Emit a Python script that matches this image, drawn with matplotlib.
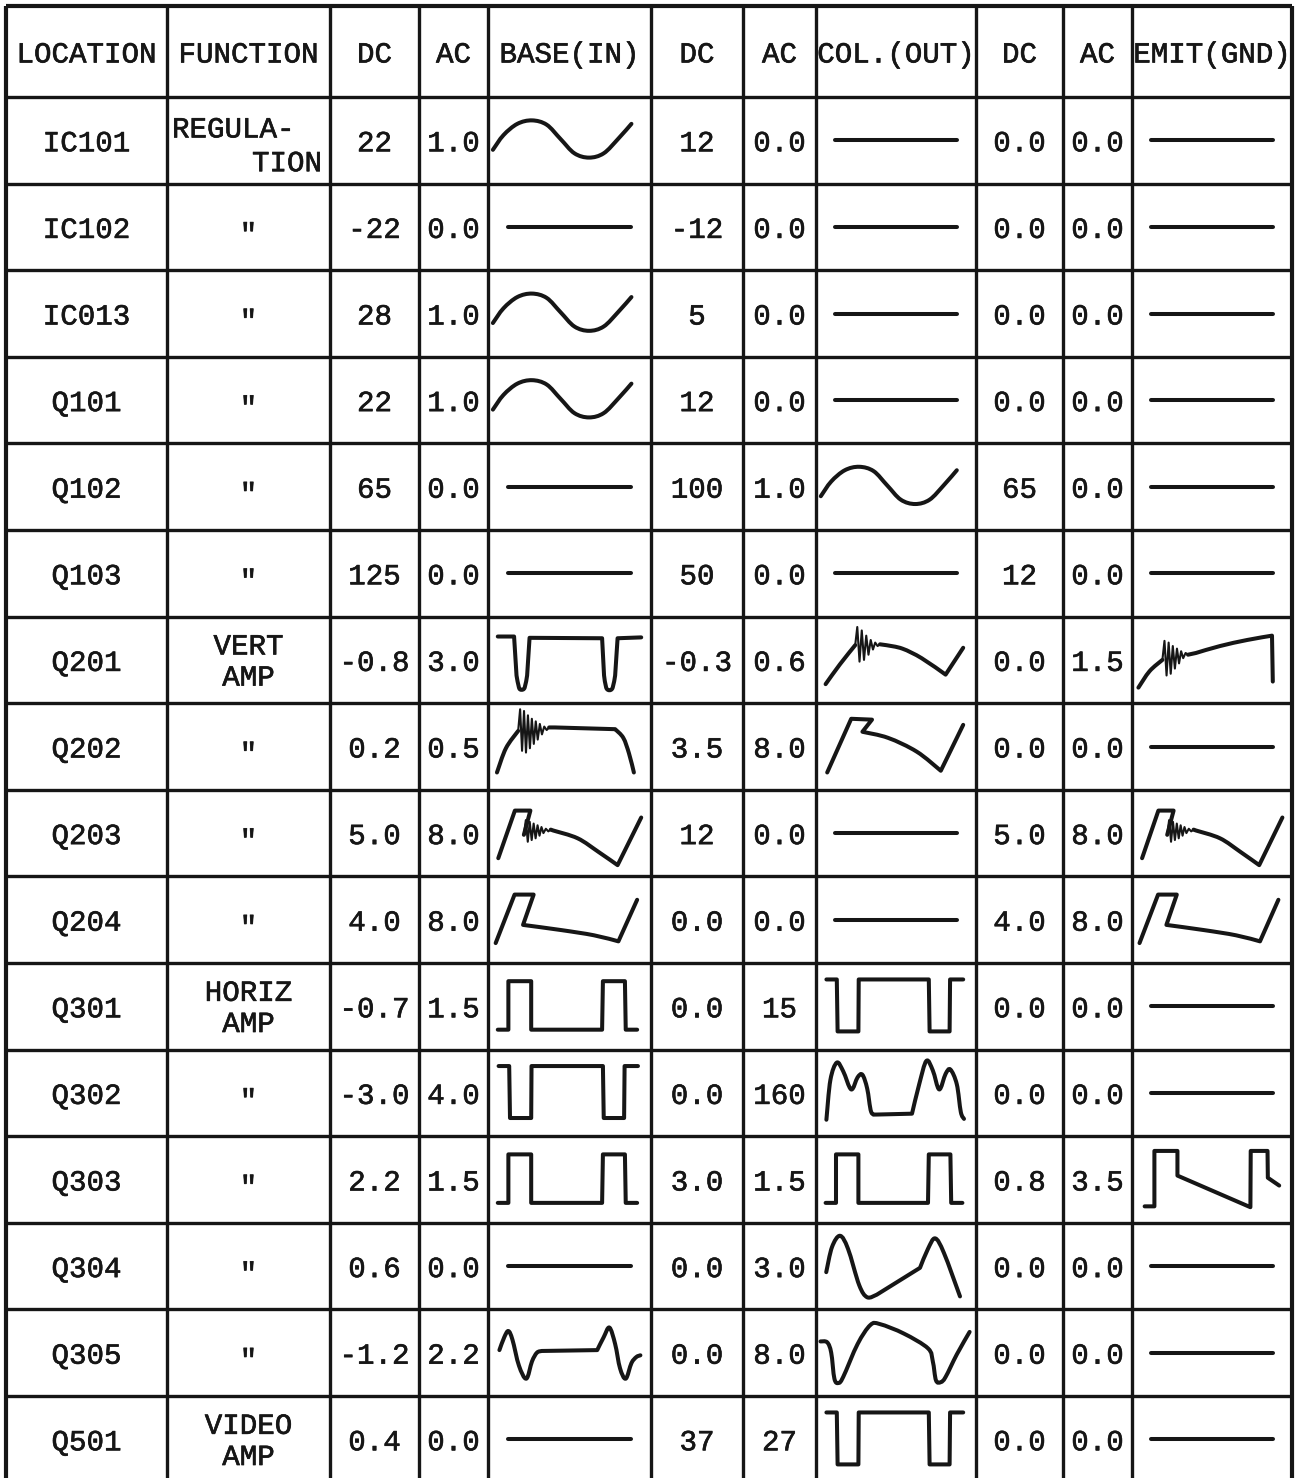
import numpy as np
import matplotlib
matplotlib.use("Agg")
import matplotlib.pyplot as plt
from matplotlib.path import Path
from matplotlib.patches import PathPatch
from matplotlib.transforms import Affine2D
import matplotlib.patheffects as pe

# ---------------- data ----------------
header = ["LOCATION", "FUNCTION", "DC", "AC", "BASE(IN)", "DC", "AC",
          "COL.(OUT)", "DC", "AC", "EMIT(GND)"]
locations = ["IC101", "IC102", "IC013", "Q101", "Q102", "Q103", "Q201", "Q202",
             "Q203", "Q204", "Q301", "Q302", "Q303", "Q304", "Q305", "Q501"]
functions = ["REGULA-\nTION", '"', '"', '"', '"', '"', "VERT\nAMP", '"', '"', '"',
             "HORIZ\nAMP", '"', '"', '"', '"', "VIDEO\nAMP"]
base_dc = ["22", "-22", "28", "22", "65", "125", "-0.8", "0.2", "5.0", "4.0",
           "-0.7", "-3.0", "2.2", "0.6", "-1.2", "0.4"]
base_ac = ["1.0", "0.0", "1.0", "1.0", "0.0", "0.0", "3.0", "0.5", "8.0", "8.0",
           "1.5", "4.0", "1.5", "0.0", "2.2", "0.0"]
base_wave = ["sine", "flat", "sine", "sine", "flat", "flat", "neg_u", "spike_plateau",
             "ramp_spike", "ramp_step", "pos_pulse", "neg_pulse", "pos_pulse", "flat",
             "biphasic", "flat"]
col_dc = ["12", "-12", "5", "12", "100", "50", "-0.3", "3.5", "12", "0.0",
          "0.0", "0.0", "3.0", "0.0", "0.0", "37"]
col_ac = ["0.0", "0.0", "0.0", "0.0", "1.0", "0.0", "0.6", "8.0", "0.0", "0.0",
          "15", "160", "1.5", "3.0", "8.0", "27"]
col_wave = ["flat", "flat", "flat", "flat", "sine", "flat", "spike_ramp", "step_ramp",
            "flat", "flat", "neg_pulse", "double_hump", "pos_pulse", "hump_ramp",
            "dip_arch", "neg_pulse"]
emit_dc = ["0.0", "0.0", "0.0", "0.0", "65", "12", "0.0", "0.0", "5.0", "4.0",
           "0.0", "0.0", "0.8", "0.0", "0.0", "0.0"]
emit_ac = ["0.0", "0.0", "0.0", "0.0", "0.0", "0.0", "1.5", "0.0", "8.0", "8.0",
           "0.0", "0.0", "3.5", "0.0", "0.0", "0.0"]
emit_wave = ["flat", "flat", "flat", "flat", "flat", "flat", "spike_rise_drop", "flat",
             "ramp_spike", "ramp_step", "flat", "flat", "pulse_ramp", "flat", "flat", "flat"]

# waveform sketches, in cell units (u: 0 left..1 right, v: 0 top..1 bottom)
# 'L' = straight strokes, 'S' = smooth stroke, 'Z' = thin ringing zigzag
shapes = {
    "flat": [("L", [(0.12, 0.5), (0.88, 0.5)])],
    "sine": [("S", [(0.03, 0.61), (0.095, 0.44), (0.18, 0.31), (0.27, 0.27), (0.36, 0.32),
                    (0.445, 0.485), (0.53, 0.65), (0.62, 0.70), (0.71, 0.65), (0.80, 0.48),
                    (0.88, 0.31)])],
    "neg_u": [("L", [(0.06, 0.23), (0.16, 0.23), (0.175, 0.68)]),
              ("S", [(0.175, 0.68), (0.19, 0.82), (0.205, 0.845), (0.225, 0.82), (0.24, 0.68)]),
              ("L", [(0.24, 0.68), (0.255, 0.245), (0.70, 0.25), (0.712, 0.68)]),
              ("S", [(0.712, 0.68), (0.725, 0.82), (0.745, 0.85), (0.765, 0.82), (0.78, 0.68)]),
              ("L", [(0.78, 0.68), (0.795, 0.25), (0.94, 0.24)])],
    "spike_ramp": [("S", [(0.06, 0.78), (0.15, 0.55), (0.245, 0.33)]),
                   ("Z", [(0.245, 0.33), (0.258, 0.12), (0.272, 0.52), (0.286, 0.16), (0.30, 0.50),
                          (0.314, 0.22), (0.328, 0.44), (0.342, 0.27), (0.356, 0.38), (0.37, 0.30),
                          (0.385, 0.34), (0.40, 0.32)]),
                   ("L", [(0.40, 0.32), (0.44, 0.33)]),
                   ("S", [(0.44, 0.33), (0.54, 0.37), (0.66, 0.48), (0.81, 0.67)]),
                   ("L", [(0.81, 0.67), (0.92, 0.36)])],
    "spike_rise_drop": [("S", [(0.04, 0.82), (0.11, 0.63), (0.19, 0.50)]),
                        ("Z", [(0.19, 0.50), (0.203, 0.28), (0.216, 0.68), (0.229, 0.30),
                               (0.242, 0.66), (0.255, 0.34), (0.268, 0.60), (0.281, 0.37),
                               (0.294, 0.54), (0.307, 0.40), (0.32, 0.48), (0.335, 0.42),
                               (0.35, 0.44)]),
                        ("L", [(0.35, 0.44), (0.40, 0.42)]),
                        ("S", [(0.40, 0.42), (0.55, 0.34), (0.72, 0.27), (0.875, 0.22)]),
                        ("L", [(0.875, 0.22), (0.88, 0.75)])],
    "spike_plateau": [("S", [(0.055, 0.80), (0.11, 0.52), (0.185, 0.32)]),
                      ("Z", [(0.185, 0.32), (0.197, 0.07), (0.209, 0.55), (0.221, 0.09),
                             (0.233, 0.57), (0.245, 0.14), (0.257, 0.52), (0.269, 0.18),
                             (0.281, 0.47), (0.293, 0.21), (0.305, 0.42), (0.318, 0.24),
                             (0.331, 0.36), (0.345, 0.27), (0.36, 0.31), (0.375, 0.28)]),
                      ("L", [(0.375, 0.28), (0.41, 0.28), (0.78, 0.30)]),
                      ("S", [(0.78, 0.30), (0.83, 0.40), (0.865, 0.58), (0.895, 0.80)])],
    "step_ramp": [("L", [(0.07, 0.80), (0.22, 0.18), (0.35, 0.19), (0.29, 0.33)]),
                  ("S", [(0.29, 0.33), (0.45, 0.40), (0.63, 0.56), (0.78, 0.78)]),
                  ("L", [(0.78, 0.78), (0.92, 0.25)])],
    "ramp_spike": [("L", [(0.063, 0.79), (0.165, 0.24), (0.26, 0.24), (0.22, 0.52)]),
                   ("Z", [(0.22, 0.52), (0.232, 0.35), (0.244, 0.60), (0.256, 0.37), (0.268, 0.58),
                          (0.28, 0.39), (0.292, 0.56), (0.304, 0.41), (0.316, 0.53),
                          (0.328, 0.43), (0.34, 0.50), (0.355, 0.45), (0.37, 0.48),
                          (0.385, 0.46)]),
                   ("L", [(0.385, 0.46), (0.40, 0.47)]),
                   ("S", [(0.40, 0.47), (0.55, 0.56), (0.68, 0.72), (0.795, 0.87)]),
                   ("L", [(0.795, 0.87), (0.94, 0.32)])],
    "ramp_step": [("L", [(0.047, 0.77), (0.163, 0.21), (0.28, 0.21), (0.215, 0.56)]),
                  ("S", [(0.215, 0.56), (0.45, 0.62), (0.65, 0.68), (0.80, 0.75)]),
                  ("L", [(0.80, 0.75), (0.915, 0.27)])],
    "pos_pulse": [("L", [(0.06, 0.77), (0.125, 0.77), (0.125, 0.21), (0.265, 0.21),
                         (0.265, 0.77), (0.70, 0.77), (0.705, 0.21), (0.84, 0.21),
                         (0.845, 0.77), (0.915, 0.77)])],
    "neg_pulse": [("L", [(0.065, 0.19), (0.13, 0.19), (0.135, 0.79), (0.265, 0.79),
                         (0.267, 0.19), (0.705, 0.19), (0.71, 0.79), (0.835, 0.79),
                         (0.838, 0.19), (0.92, 0.19)])],
    "double_hump": [("S", [(0.065, 0.81), (0.09, 0.35), (0.13, 0.15), (0.17, 0.25), (0.22, 0.46),
                           (0.26, 0.32), (0.29, 0.29), (0.32, 0.45), (0.345, 0.72), (0.38, 0.75)]),
                    ("L", [(0.38, 0.75), (0.60, 0.74)]),
                    ("S", [(0.60, 0.74), (0.645, 0.40), (0.69, 0.13), (0.73, 0.24), (0.77, 0.46),
                           (0.81, 0.28), (0.84, 0.23), (0.88, 0.40), (0.905, 0.72), (0.925, 0.80)])],
    "hump_ramp": [("S", [(0.064, 0.57), (0.10, 0.28), (0.15, 0.15), (0.20, 0.30), (0.27, 0.72),
                         (0.32, 0.86), (0.38, 0.83)]),
                  ("L", [(0.38, 0.83), (0.65, 0.52)]),
                  ("S", [(0.65, 0.52), (0.70, 0.30), (0.745, 0.18), (0.80, 0.35), (0.90, 0.85)])],
    "dip_arch": [("S", [(0.028, 0.37), (0.07, 0.38), (0.095, 0.50), (0.115, 0.80), (0.14, 0.85),
                        (0.17, 0.78), (0.26, 0.40), (0.34, 0.18), (0.40, 0.17), (0.55, 0.28),
                        (0.70, 0.45), (0.73, 0.60), (0.75, 0.82), (0.78, 0.84), (0.81, 0.78),
                        (0.88, 0.52), (0.96, 0.26)])],
    "biphasic": [("S", [(0.07, 0.47), (0.10, 0.32), (0.125, 0.25), (0.15, 0.35), (0.19, 0.65),
                        (0.235, 0.80), (0.27, 0.60), (0.30, 0.50), (0.33, 0.48)]),
                 ("L", [(0.33, 0.48), (0.67, 0.47)]),
                 ("S", [(0.67, 0.47), (0.71, 0.32), (0.745, 0.21), (0.78, 0.40), (0.81, 0.68),
                        (0.845, 0.80), (0.88, 0.62), (0.91, 0.55), (0.935, 0.53)])],
    "pulse_ramp": [("L", [(0.079, 0.81), (0.14, 0.81), (0.14, 0.17), (0.284, 0.17), (0.284, 0.455),
                          (0.74, 0.82), (0.742, 0.17), (0.847, 0.17), (0.849, 0.48), (0.92, 0.57)])],
}

# ---------------- layout ----------------
W, H = 1296, 1478
col_edges = [6, 167, 330, 419, 488, 651, 743, 816, 976, 1063, 1132, 1292]
table_top, header_bottom, row_h = 6, 97, 86.6
n_rows = len(locations)
row_edges = [table_top] + [header_bottom + k * row_h for k in range(n_rows + 1)]
ink = "#161616"
FONT = ["Liberation Mono", "DejaVu Sans Mono"]
FS = 21
thick = [pe.withStroke(linewidth=0.45, foreground=ink)]

fig = plt.figure(figsize=(W / 100, H / 100), dpi=100)
fig.patch.set_facecolor("white")
ax = fig.add_axes([0, 0, 1, 1])
ax.set_xlim(0, W)
ax.set_ylim(H, 0)
ax.axis("off")

# grid
for i, x in enumerate(col_edges):
    lw = 3.0 if i in (0, len(col_edges) - 1) else 2.4
    ax.plot([x, x], [row_edges[0], row_edges[-1]], color=ink, lw=lw, solid_capstyle="butt")
for j, y in enumerate(row_edges):
    lw = 3.0 if j == 0 else 2.4
    ax.plot([col_edges[0], col_edges[-1]], [y, y], color=ink, lw=lw, solid_capstyle="butt")


def smooth_segments(pts):
    verts = []
    n = len(pts)
    for i in range(n - 1):
        p0 = pts[max(i - 1, 0)]; p1 = pts[i]; p2 = pts[i + 1]; p3 = pts[min(i + 2, n - 1)]
        verts += [p1 + (p2 - p0) / 6.0, p2 - (p3 - p1) / 6.0, p2]
    return verts


def build_paths(template):
    main_v, main_c, thin = [], [], []
    pen_down = False
    for kind, pts in template:
        pts = np.asarray(pts, dtype=float)
        if kind == "Z":
            thin.append(Path(pts))
            pen_down = False
            continue
        if not pen_down:
            main_v.append(pts[0]); main_c.append(Path.MOVETO)
            pen_down = True
        if kind == "L":
            for p in pts[1:]:
                main_v.append(p); main_c.append(Path.LINETO)
        else:
            seg = smooth_segments(pts)
            main_v += seg; main_c += [Path.CURVE4] * len(seg)
    return Path(np.array(main_v), main_c), thin


def draw_wave(name, col, row):
    x0, x1 = col_edges[col], col_edges[col + 1]
    y0, y1 = row_edges[row + 1], row_edges[row + 2]
    tr = Affine2D().scale(x1 - x0, y1 - y0).translate(x0, y0) + ax.transData
    main, thin = build_paths(shapes[name])
    ax.add_patch(PathPatch(main, transform=tr, fill=False, edgecolor=ink, lw=2.9,
                           capstyle="round", joinstyle="round"))
    for p in thin:
        ax.add_patch(PathPatch(p, transform=tr, fill=False, edgecolor=ink, lw=1.5,
                               capstyle="round", joinstyle="round"))


def put(x, y, s, ha="center", va="center_baseline"):
    ax.text(x, y, s, ha=ha, va=va, family=FONT, fontsize=FS, color=ink, path_effects=thick)


def cell_text(s, col, row, ha="center", dx=0.0, vfrac=0.5):
    x0, x1 = col_edges[col], col_edges[col + 1]
    y0, y1 = row_edges[row + 1], row_edges[row + 2]
    x = (x0 + x1) / 2 + dx if ha == "center" else (x0 + dx if ha == "left" else x1 + dx)
    put(x, y0 + vfrac * (y1 - y0), s, ha=ha)


# header
hy = (row_edges[0] + row_edges[1]) / 2
for c, s in enumerate(header):
    put((col_edges[c] + col_edges[c + 1]) / 2, hy, s)

em_px = FS * 100 / 72
for r in range(n_rows):
    cell_text(locations[r], 0, r)
    f = functions[r]
    if f == '"':
        yc = (row_edges[r + 1] + row_edges[r + 2]) / 2
        put((col_edges[1] + col_edges[2]) / 2, yc + 0.56 * em_px, f, va="baseline")
    elif f.startswith("REGULA"):
        a, b = f.split("\n")
        cell_text(a, 1, r, ha="left", dx=5, vfrac=0.34)
        cell_text(b, 1, r, ha="right", dx=-8, vfrac=0.73)
    else:
        a, b = f.split("\n")
        cell_text(a, 1, r, vfrac=0.31)
        cell_text(b, 1, r, vfrac=0.67)
    cell_text(base_dc[r], 2, r)
    cell_text(base_ac[r], 3, r)
    draw_wave(base_wave[r], 4, r)
    cell_text(col_dc[r], 5, r)
    cell_text(col_ac[r], 6, r)
    draw_wave(col_wave[r], 7, r)
    cell_text(emit_dc[r], 8, r)
    cell_text(emit_ac[r], 9, r)
    draw_wave(emit_wave[r], 10, r)

fig.savefig("out.png", dpi=100, facecolor="white")
